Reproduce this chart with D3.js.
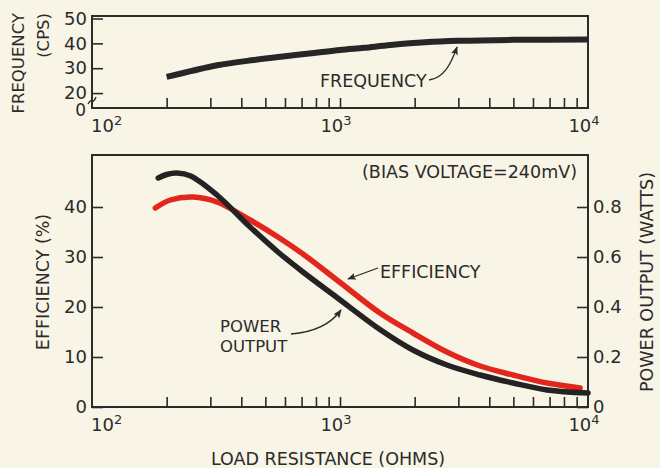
<!DOCTYPE html>
<html>
<head>
<meta charset="utf-8">
<script src="https://cdn.jsdelivr.net/npm/d3@7"></script>
<style>
  html, body { margin: 0; padding: 0; background: #f8f4e6; }
  svg { display: block; }
  text { font-family: "DejaVu Sans", sans-serif; fill: #2b2b2b; }
</style>
</head>
<body>
<svg id="chart" width="660" height="468"></svg>
<script>
// Load resistance (ohms) and measured curves
const freqR      = [200, 250, 320, 450, 600, 800, 1000, 1250, 1600, 2200, 3000, 5000, 10000];
const frequency  = [26.5, 28.8, 31.2, 33.3, 34.8, 36.2, 37.3, 38.2, 39.3, 40.4, 41.0, 41.4, 41.5];

const powerR     = [185, 200, 220, 250, 319, 434, 562, 709, 972, 1449, 1968, 2698, 3673, 4989, 6839, 10000];
const powerOut   = [0.916, 0.930, 0.936, 0.924, 0.848, 0.72, 0.62, 0.54, 0.438, 0.31, 0.228, 0.168, 0.128, 0.096, 0.068, 0.056];

const effR       = [180, 207, 255, 319, 434, 562, 709, 972, 1449, 1968, 2698, 3673, 4989, 6839, 9300];
const efficiency = [39.8, 41.4, 42.0, 41.0, 37.4, 34.0, 30.6, 25.4, 18.8, 14.8, 11.0, 8.2, 6.4, 4.8, 3.8];

// Axis ticks and labels
const decades     = [2, 3, 4];
const minorTicks  = [200, 300, 400, 500, 600, 700, 800, 900, 1000, 2000, 3000, 4000, 5000, 6000, 7000, 8000, 9000];
const freqTicks   = [20, 30, 40, 50];
const effTicks    = [0, 10, 20, 30, 40];
const powerTicks  = [0, 0.2, 0.4, 0.6, 0.8];

const INK = "#2b2b2b";
const svg = d3.select("#chart");
svg.append("rect").attr("width", 660).attr("height", 468).attr("fill", "#f8f4e6");

const defs = svg.append("defs");
defs.append("marker")
  .attr("id", "head").attr("viewBox", "0 0 10 8")
  .attr("refX", 9).attr("refY", 4)
  .attr("markerWidth", 9).attr("markerHeight", 7)
  .attr("markerUnits", "userSpaceOnUse")
  .attr("orient", "auto")
  .append("path").attr("d", "M0,0 L10,4 L0,8 L2,4 z").attr("fill", INK);

// Shared logarithmic x scale
const x = d3.scaleLog().domain([100, 10000]).range([92, 588]);

// Panels
const freqPanel = { y0: 16, y1: 108 };
const mainPanel = { y0: 155, y1: 407 };

const yF = d3.scaleLinear().domain([14, 51]).range([freqPanel.y1, freqPanel.y0]);
const yE = d3.scaleLinear().domain([0, 50.4]).range([mainPanel.y1, mainPanel.y0]);
const yP = d3.scaleLinear().domain([0, 1.008]).range([mainPanel.y1, mainPanel.y0]);

function styleAxis(g) {
  g.select(".domain").remove();
  g.selectAll(".tick line").attr("stroke", INK).attr("stroke-width", 1.6);
  g.selectAll(".tick text").attr("font-size", 18).attr("fill", INK)
    .style("font-family", '"DejaVu Sans", sans-serif');
}

function frame(p) {
  svg.append("rect")
    .attr("x", x.range()[0]).attr("y", p.y0)
    .attr("width", x.range()[1] - x.range()[0]).attr("height", p.y1 - p.y0)
    .attr("fill", "none").attr("stroke", INK).attr("stroke-width", 2);
}

function xAxis(p) {
  svg.append("g").attr("transform", `translate(0,${p.y1})`)
    .call(d3.axisBottom(x).tickValues(minorTicks).tickSize(-10).tickFormat(""))
    .call(styleAxis);
  decades.forEach((d, i) => {
    const t = svg.append("text")
      .attr("x", i === 0 ? x(Math.pow(10, d)) - 1 : x(Math.pow(10, d)) - 4)
      .attr("y", p.y1 + 24)
      .attr("font-size", 18)
      .attr("text-anchor", i === 0 ? "start" : "middle");
    t.append("tspan").text("10");
    t.append("tspan").attr("font-size", 13).attr("dy", -7).text(d);
  });
}

const smooth = d3.curveCatmullRom.alpha(0.5);

// ---- Frequency panel ----
svg.append("g").attr("transform", `translate(${x.range()[0]},0)`)
  .call(d3.axisLeft(yF).tickValues(freqTicks).tickSize(-11).tickPadding(5))
  .call(styleAxis);
svg.append("text").attr("x", x.range()[0] - 6).attr("y", freqPanel.y1 + 8)
  .attr("text-anchor", "end").attr("font-size", 17).text("0");
// axis break mark
svg.append("path")
  .attr("d", `M${x.range()[0] - 4},${freqPanel.y1 - 4} q2,-4 4,-3 t4,-4`)
  .attr("fill", "none").attr("stroke", INK).attr("stroke-width", 1.4);
frame(freqPanel);
xAxis(freqPanel);

const lineF = d3.line().x((d, i) => x(freqR[i])).y(d => yF(d)).curve(smooth);
svg.append("path").datum(frequency).attr("d", lineF)
  .attr("fill", "none").attr("stroke", "#262626").attr("stroke-width", 6)
  .attr("stroke-linecap", "butt");

svg.append("text").attr("x", 320).attr("y", 87).attr("font-size", 17.5).text("FREQUENCY");
svg.append("path").attr("d", "M429,80 C444,78 451,64 457,47")
  .attr("fill", "none").attr("stroke", INK).attr("stroke-width", 1.3)
  .attr("marker-end", "url(#head)");

const fLab = svg.append("text").attr("transform", "translate(0,13) rotate(-90)")
  .attr("text-anchor", "end").attr("font-size", 16.5);
fLab.append("tspan").attr("x", 0).attr("y", 24).text("FREQUENCY");
fLab.append("tspan").attr("x", 0).attr("y", 49).text("(CPS)");

// ---- Efficiency / power panel ----
svg.append("g").attr("transform", `translate(${x.range()[0]},0)`)
  .call(d3.axisLeft(yE).tickValues(effTicks).tickSize(-11).tickPadding(5))
  .call(styleAxis);
svg.append("g").attr("transform", `translate(${x.range()[1]},0)`)
  .call(d3.axisRight(yP).tickValues(powerTicks).tickSize(-11).tickPadding(5)
    .tickFormat(d => d === 0 ? "0" : d3.format(".1f")(d)))
  .call(styleAxis);
frame(mainPanel);
xAxis(mainPanel);

const lineE = d3.line().x((d, i) => x(effR[i])).y(d => yE(d)).curve(smooth);
const lineP = d3.line().x((d, i) => x(powerR[i])).y(d => yP(d)).curve(smooth);

svg.append("path").datum(efficiency).attr("d", lineE)
  .attr("fill", "none").attr("stroke", "#e2261d").attr("stroke-width", 5.5)
  .attr("stroke-linecap", "round");
svg.append("path").datum(powerOut).attr("d", lineP)
  .attr("fill", "none").attr("stroke", "#232323").attr("stroke-width", 5.5)
  .attr("stroke-linecap", "round");

svg.append("text").attr("x", 577).attr("y", 178).attr("text-anchor", "end")
  .attr("font-size", 17.5).text("(BIAS VOLTAGE=240mV)");

svg.append("text").attr("x", 380).attr("y", 278).attr("font-size", 17.5).text("EFFICIENCY");
svg.append("path").attr("d", "M378,268 L348,279")
  .attr("fill", "none").attr("stroke", INK).attr("stroke-width", 1.3)
  .attr("marker-end", "url(#head)");

svg.append("text").attr("x", 220).attr("y", 332).attr("font-size", 16.5).text("POWER");
svg.append("text").attr("x", 220).attr("y", 351.5).attr("font-size", 16.5).text("OUTPUT");
svg.append("path").attr("d", "M291,334 C316,332 331,324 341,310")
  .attr("fill", "none").attr("stroke", INK).attr("stroke-width", 1.3)
  .attr("marker-end", "url(#head)");

svg.append("text").attr("transform", "translate(49,282) rotate(-90)")
  .attr("text-anchor", "middle").attr("font-size", 17.5).text("EFFICIENCY (%)");
svg.append("text").attr("transform", "translate(653,282) rotate(-90)")
  .attr("text-anchor", "middle").attr("font-size", 17.5).text("POWER OUTPUT (WATTS)");

svg.append("text").attr("x", 328).attr("y", 465).attr("text-anchor", "middle")
  .attr("font-size", 17.5).text("LOAD RESISTANCE (OHMS)");
</script>
</body>
</html>
